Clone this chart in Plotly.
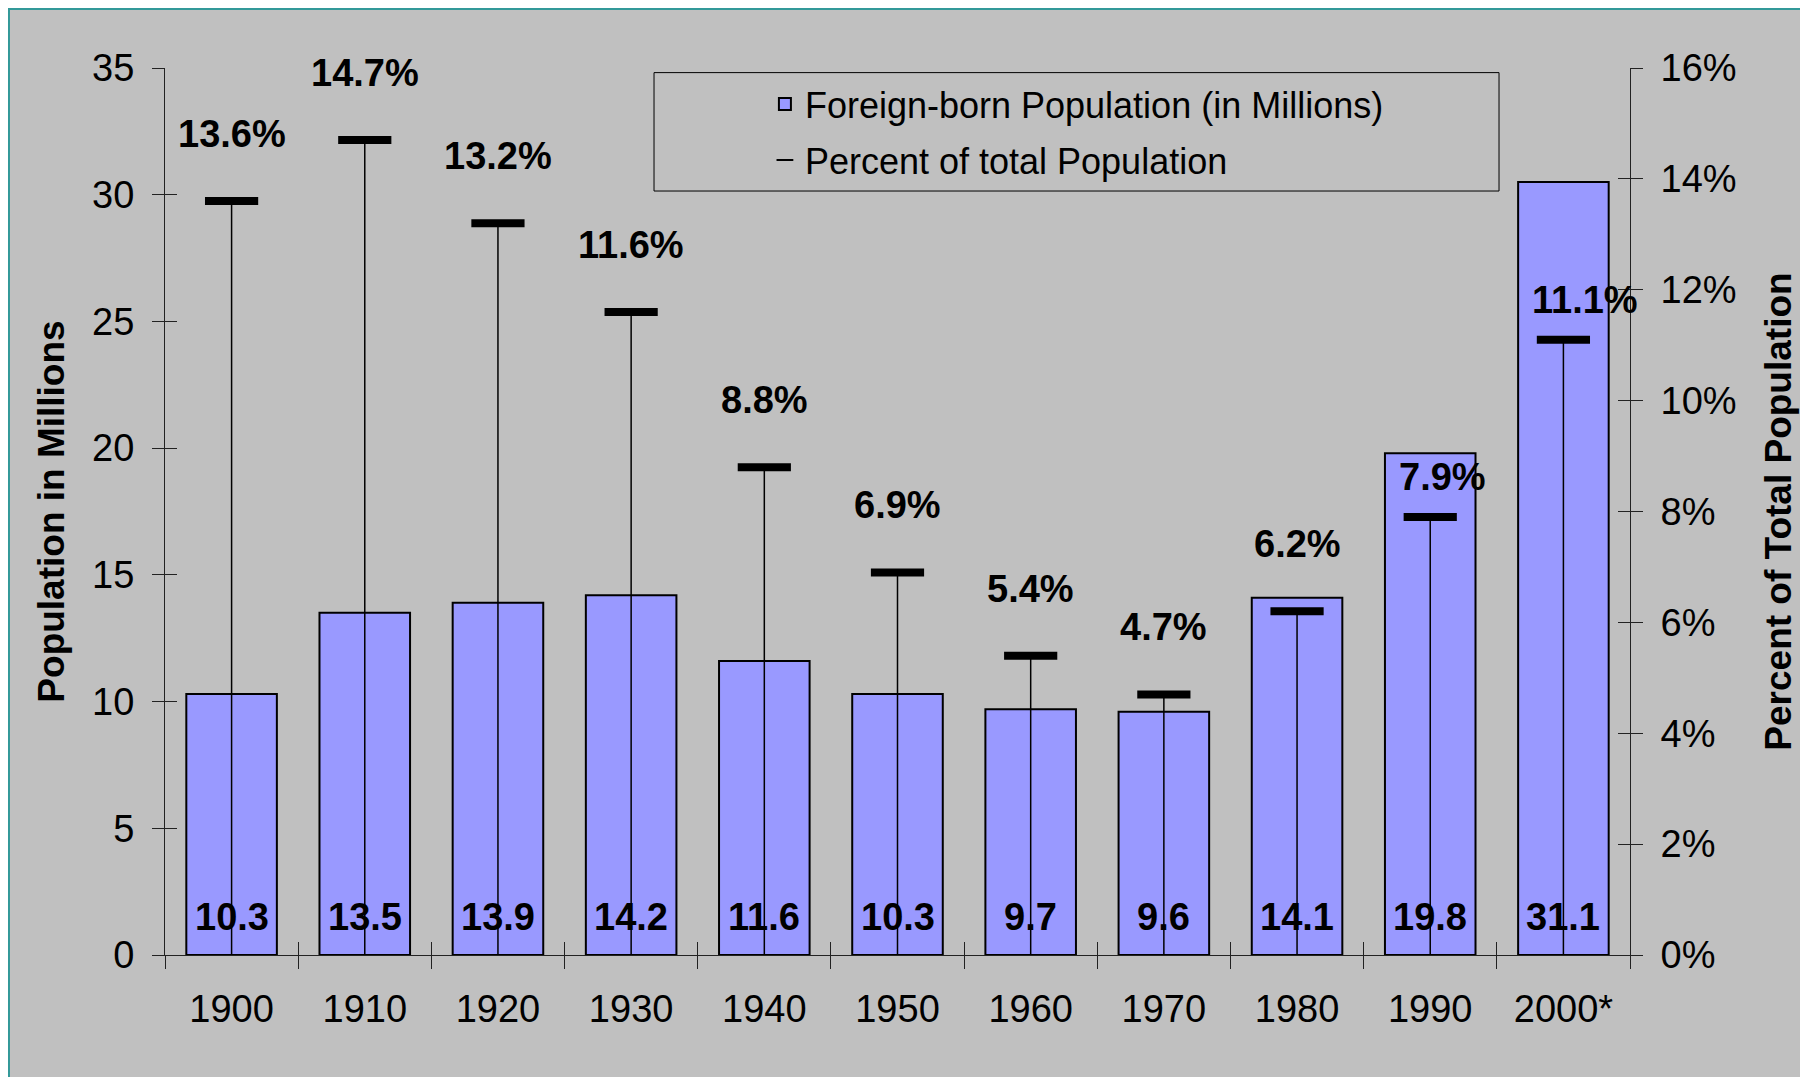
import plotly.graph_objects as go

# Census figures
years = ["1900", "1910", "1920", "1930", "1940", "1950", "1960", "1970", "1980", "1990", "2000*"]
foreign_born = [10.3, 13.5, 13.9, 14.2, 11.6, 10.3, 9.7, 9.6, 14.1, 19.8, 30.5]
foreign_born_labels = ["10.3", "13.5", "13.9", "14.2", "11.6", "10.3", "9.7", "9.6", "14.1", "19.8", "31.1"]
pct_of_total = [13.6, 14.7, 13.2, 11.6, 8.8, 6.9, 5.4, 4.7, 6.2, 7.9, 11.1]

FONT = "Arial, 'Liberation Sans', sans-serif"
GREY = "#c0c0c0"
AXIS = "#222222"
idx = list(range(len(years)))

fig = go.Figure()
fig.add_trace(go.Bar(
    x=years, y=foreign_born, name="Foreign-born Population (in Millions)",
    marker=dict(color="#9999ff", line=dict(color="black", width=2)),
    legendgroup="a",
))
fig.add_trace(go.Scatter(
    x=years, y=pct_of_total, yaxis="y2", mode="markers",
    name="Percent of total Population", legendgroup="b",
    marker=dict(symbol="line-ew", size=38, color="black", line=dict(color="black", width=8)),
    error_y=dict(type="data", symmetric=False, array=[0] * len(pct_of_total),
                 arrayminus=pct_of_total, width=0, thickness=1.5, color="black"),
))
# invisible carriers so the overlay axes (inner half of the cross ticks) get drawn
fig.add_trace(go.Scatter(x=idx, y=foreign_born, xaxis="x2", yaxis="y3", mode="markers",
                         marker_opacity=0, showlegend=False, hoverinfo="skip"))
fig.add_trace(go.Scatter(x=idx, y=pct_of_total, xaxis="x2", yaxis="y4", mode="markers",
                         marker_opacity=0, showlegend=False, hoverinfo="skip"))

# value labels at the foot of each bar
for i, lab in zip(idx, foreign_born_labels):
    fig.add_annotation(x=i, y=0, xref="x", yref="y", text=f"<b>{lab}</b>", showarrow=False,
                       yshift=38, font=dict(family=FONT, size=38, color="black"))

# percent labels above the markers (last two were nudged by hand in the original)
shift_x = [0] * 9 + [12, 22]
shift_y = [67] * 9 + [40, 40]
for i, p, dx, dy in zip(idx, pct_of_total, shift_x, shift_y):
    fig.add_annotation(x=i, y=p, xref="x", yref="y2", text=f"<b>{p:.1f}%</b>", showarrow=False,
                       xshift=dx, yshift=dy, font=dict(family=FONT, size=38, color="black"))

tick_font = dict(family=FONT, size=38, color="black")
title_font = dict(family=FONT, size=37, color="black", weight="bold")

fig.update_layout(
    width=1808, height=1077,
    margin=dict(l=157, r=186, t=60, b=130),
    paper_bgcolor="white", plot_bgcolor=GREY,
    bargap=0.32,
    showlegend=True,
    legend=dict(x=0.4095, y=0.993, xanchor="left", yanchor="top",
                bgcolor="rgba(0,0,0,0)", font=dict(family=FONT, size=36, color="black"),
                tracegroupgap=6, itemsizing="constant"),
    xaxis=dict(type="category", range=[-0.5, 10.5], tickson="boundaries",
               ticks="outside", ticklen=13, tickcolor=AXIS, showline=True,
               linecolor=AXIS, linewidth=1, showgrid=False, tickfont=tick_font,
               ticklabelstandoff=20),
    xaxis2=dict(overlaying="x", anchor="y", range=[-0.5, 10.5], tick0=-0.5, dtick=1,
                ticks="inside", ticklen=13, tickcolor=AXIS, showticklabels=False,
                showgrid=False, zeroline=False, showline=False),
    yaxis=dict(range=[0, 35], dtick=5, ticks="outside", ticklen=12, tickcolor=AXIS,
               showline=True, linecolor=AXIS, linewidth=1, showgrid=False, zeroline=False,
               tickfont=tick_font, ticklabelstandoff=10,
               title=dict(text="Population in Millions", font=title_font, standoff=16)),
    yaxis2=dict(overlaying="y", side="right", anchor="x", range=[0, 16], dtick=2,
                ticksuffix="%", ticks="outside", ticklen=12, tickcolor=AXIS,
                showline=True, linecolor=AXIS, linewidth=1, showgrid=False,
                zeroline=False, tickfont=tick_font, ticklabelstandoff=10,
                title=dict(text="Percent of Total Population", font=title_font, standoff=29)),
    yaxis3=dict(overlaying="y", side="left", anchor="x", range=[0, 35], dtick=5,
                ticks="inside", ticklen=12, tickcolor=AXIS, showticklabels=False,
                showgrid=False, zeroline=False, showline=False),
    yaxis4=dict(overlaying="y", side="right", anchor="x", range=[0, 16], dtick=2,
                ticks="inside", ticklen=12, tickcolor=AXIS, showticklabels=False,
                showgrid=False, zeroline=False, showline=False),
    shapes=[
        # chart area frame
        dict(type="rect", xref="paper", yref="paper", x0=-0.1065, x1=1.2, y0=-0.3, y1=1.0665,
             fillcolor=GREY, line=dict(color="#339999", width=2), layer="below"),
        # legend box
        dict(type="rect", xref="paper", yref="paper", x0=0.3338, x1=0.9106, y0=0.8613, y1=0.9948,
             line=dict(color="black", width=1)),
    ],
)

fig.write_html("out.html")
